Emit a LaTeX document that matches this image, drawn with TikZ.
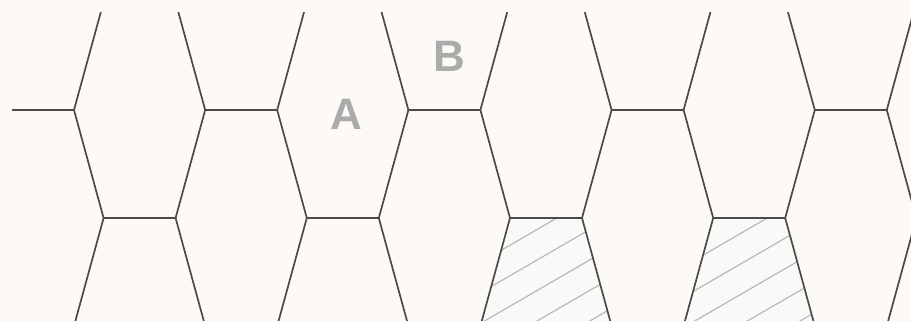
\documentclass[tikz,border=0pt]{standalone}
\usepackage{fontspec}
\setmainfont{Liberation Sans}
\definecolor{bgcol}{HTML}{FDFAF6}
\definecolor{edgegray}{HTML}{4A4A4A}
\definecolor{hatchgray}{HTML}{B8B8B8}
\definecolor{hatchfill}{HTML}{F9F9F8}
\definecolor{lblgray}{HTML}{ABABAB}
\begin{document}
\begin{tikzpicture}[x=1pt,y=-1pt,
  edge/.style={draw=edgegray, line width=1.7pt, line cap=butt, line join=round},
  hatchline/.style={draw=hatchgray, line width=1.2pt},
  lbl/.style={text=lblgray, font=\fontsize{44}{44}\selectfont\bfseries, inner sep=0pt}]
\fill[bgcol] (0,0) rectangle (911,322);
\useasboundingbox (0,0) rectangle (911,322);
% hatched cells
\begin{scope}
  \clip (0,0) rectangle (911,320);
  \clip (510,218) -- (582,218) -- (611.6,326) -- (480.4,326) -- cycle
        (713.2,218) -- (785.2,218) -- (814.8,326) -- (683.6,326) -- cycle;
  \fill[hatchfill] (470,210) rectangle (830,330);
  \foreach \k in {-3,...,12} {
    \pgfmathsetmacro\c{541+30.5*\k}
    \draw[hatchline] (470,{\c-0.58*470}) -- (830,{\c-0.58*830});
  }
\end{scope}
% honeycomb edges
\begin{scope}
  \clip (12,12) rectangle (911,320);
  \foreach \k in {-1,...,4} {
    \pgfmathsetmacro\x{74+203.2*\k}
    \coordinate (T0) at (\x,110);
    \coordinate (B0) at (\x+29.6,218);
    \coordinate (B1) at (\x+101.6,218);
    \coordinate (T1) at (\x+131.2,110);
    \coordinate (T2) at (\x+203.2,110);
    \coordinate (U0) at (\x+29.6,2);
    \coordinate (U1) at (\x+101.6,2);
    \coordinate (D0) at (\x,326);
    \coordinate (D1) at (\x+131.2,326);
    \draw[edge] (T0) -- (B0) -- (B1) -- (T1) -- (T2);
    \draw[edge] (U0) -- (T0);
    \draw[edge] (T1) -- (U1);
    \draw[edge] (B0) -- (D0);
    \draw[edge] (B1) -- (D1);
  }
\end{scope}
\node[lbl] (A) at (346,114) {A};
\node[lbl] (B) at (449,56) {B};
\end{tikzpicture}
\end{document}
